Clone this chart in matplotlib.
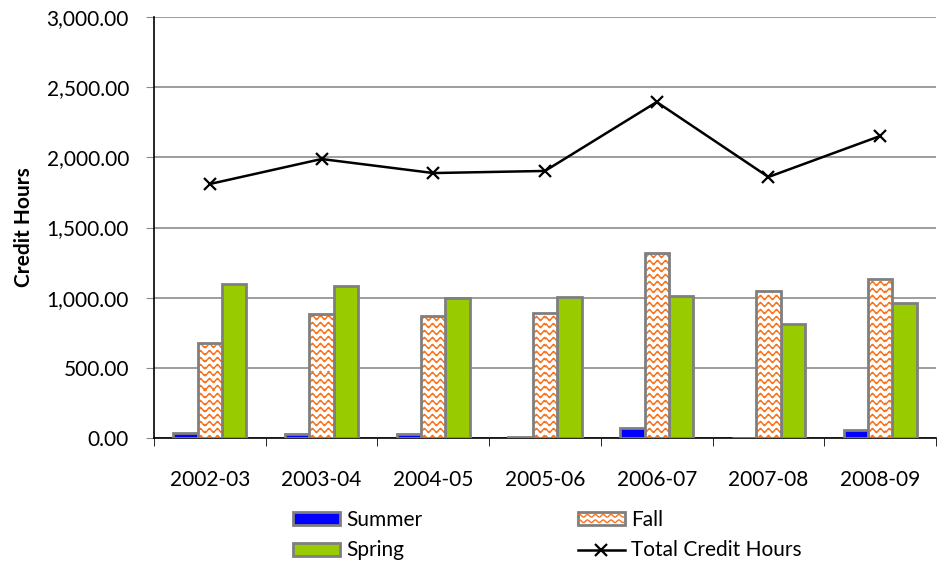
import matplotlib.pyplot as plt
import numpy as np
from matplotlib.patches import Rectangle
from matplotlib.lines import Line2D
from matplotlib.legend_handler import HandlerBase

plt.rcParams["font.family"] = ["Lato", "DejaVu Sans"]

# Values
years = ["2002-03", "2003-04", "2004-05", "2005-06", "2006-07", "2007-08", "2008-09"]
summer = [35, 25, 25, 5, 70, 3, 55]
fall = [677, 884, 869, 890, 1318, 1047, 1133]
spring = [1097, 1083, 995, 1005, 1012, 812, 962]
total = [1810, 1988, 1888, 1903, 2394, 1860, 2152]
y_ticks = [0, 500, 1000, 1500, 2000, 2500, 3000]

BLUE = "#0000FF"
GREEN = "#99CC00"
ORANGE = "#F7731E"
EDGE = "#7F7F7F"
GRID = "#8C8C8C"
FS = 15


def wave_texture(w_px, h_px, wavelength=8.0, amp=1.6, spacing=7.0, thick=1.3):
    # white background with rows of orange waves, like Excel's "wave" pattern fill
    xx, yy = np.meshgrid(np.arange(w_px), np.arange(h_px))
    d = (yy - amp * np.sin(2 * np.pi * xx / wavelength)) % spacing
    d = np.minimum(d, spacing - d)
    a = np.clip(1.0 - (d - thick / 2), 0, 1)
    orange = np.array([0xF7, 0x73, 0x1E]) / 255.0
    img = np.ones((h_px, w_px, 4))
    for c in range(3):
        img[..., c] = 1.0 * (1 - a) + orange[c] * a
    return img


class WaveHandler(HandlerBase):
    def create_artists(self, legend, orig_handle, xdescent, ydescent, width, height, fontsize, trans):
        x0, y0 = -xdescent, -ydescent
        arts = [Rectangle((x0, y0), width, height, facecolor="white", edgecolor=EDGE, lw=2, transform=trans)]
        xs = np.linspace(x0 + 1, x0 + width - 1, 80)
        for k in (0.3, 0.72):
            ys = y0 + height * k + height * 0.1 * np.sin(2 * np.pi * (xs - x0) / (width / 6))
            arts.append(Line2D(xs, ys, color=ORANGE, lw=1.0, transform=trans))
        return arts


fig = plt.figure(figsize=(9.44, 5.66), dpi=100)
ax = fig.add_axes([154 / 944, 1 - 438 / 566, (936 - 154) / 944, 421 / 566])

x = np.arange(len(years))
w = 0.218

ax.bar(x - w, summer, w, color=BLUE, edgecolor=EDGE, linewidth=2, zorder=3)
fall_bars = ax.bar(x, fall, w, color="white", edgecolor="none", zorder=3)
ax.bar(x, fall, w, fill=False, edgecolor=EDGE, linewidth=2, zorder=5)
ax.bar(x + w, spring, w, color=GREEN, edgecolor=EDGE, linewidth=2, zorder=3)

# wave pattern, one texture over the whole axes, clipped to each fall bar
ax_w = int(round(fig.get_figwidth() * fig.dpi * ax.get_position().width))
ax_h = int(round(fig.get_figheight() * fig.dpi * ax.get_position().height))
tex = wave_texture(ax_w, ax_h)
for b in fall_bars:
    im = ax.imshow(tex, extent=(0, 1, 0, 1), transform=ax.transAxes, aspect="auto",
                   interpolation="nearest", zorder=4)
    im.set_clip_path(b)

ax.plot(x, total, color="black", lw=1.8, marker="x", markersize=9, mew=1.6, zorder=6)

ax.set_xlim(-0.5, len(years) - 0.5)
ax.set_ylim(0, 3000)
ax.set_yticks(y_ticks)
ax.set_yticklabels([f"{v:,.2f}" for v in y_ticks], fontsize=FS)
ax.set_xticks(x)
ax.set_xticklabels(years, fontsize=FS)
ax.set_xticks(np.arange(len(years) + 1) - 0.5, minor=True)
ax.tick_params(axis="x", which="major", length=0, pad=23)
ax.tick_params(axis="x", which="minor", length=6, direction="out", color="black")
ax.tick_params(axis="y", length=6, direction="out", color=GRID, pad=12)

ax.grid(axis="y", color=GRID, lw=1.2, zorder=0)
ax.set_axisbelow(True)
for s in ("top", "right"):
    ax.spines[s].set_visible(False)
ax.spines["left"].set_linewidth(1.2)
ax.spines["bottom"].set_linewidth(1.2)

ax.set_ylabel("Credit Hours", fontsize=15, fontweight="bold", labelpad=9)

h_summer = Rectangle((0, 0), 1, 1, facecolor=BLUE, edgecolor=EDGE, lw=2)
h_spring = Rectangle((0, 0), 1, 1, facecolor=GREEN, edgecolor=EDGE, lw=2)
h_fall = Rectangle((0, 0), 1, 1)
h_total = Line2D([], [], color="black", lw=1.8, marker="x", markersize=9, mew=1.6)
fig.legend([h_summer, h_spring, h_fall, h_total], ["Summer", "Spring", "Fall", "Total Credit Hours"],
           handler_map={h_fall: WaveHandler()}, ncol=2, frameon=False, fontsize=FS,
           loc="upper left", bbox_to_anchor=(293 / 944, 1 - 510 / 566), bbox_transform=fig.transFigure,
           borderpad=0, borderaxespad=0, handlelength=2.26, handleheight=0.58, handletextpad=0.3,
           columnspacing=7.45, labelspacing=0.5)

fig.savefig("out.png", dpi=100)
